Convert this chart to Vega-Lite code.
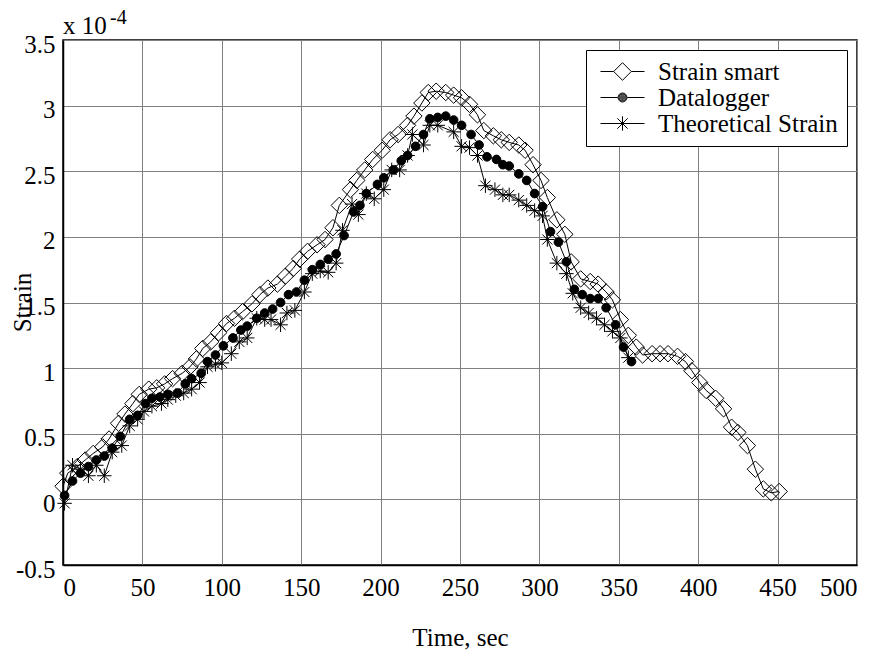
{
  "$schema": "https://vega.github.io/schema/vega-lite/v6.json",
  "width": 794,
  "height": 525,
  "autosize": {"type": "none"},
  "padding": {"left": 63, "top": 40, "right": 27, "bottom": 89},
  "background": "white",
  "config": {
    "font": "Liberation Serif",
    "view": {"stroke": "black", "strokeWidth": 1.5},
    "axis": {
      "labelFont": "Liberation Serif", "labelFontSize": 25, "labelColor": "black",
      "titleFont": "Liberation Serif", "titleFontSize": 25, "titleFontWeight": "normal", "titleColor": "black",
      "domainColor": "black", "domainWidth": 1.5,
      "gridColor": "#808080", "gridWidth": 1, "gridOpacity": 1,
      "ticks": false
    },
    "legend": {
      "labelFont": "Liberation Serif", "labelFontSize": 25, "labelColor": "black", "labelLimit": 0
    }
  },
  "datasets": {
    "strain": [
    {"series":"Strain smart","time":0,"strain":0.10},{"series":"Strain smart","time":3,"strain":0.20},{"series":"Strain smart","time":9,"strain":0.25},{"series":"Strain smart","time":14,"strain":0.30},{"series":"Strain smart","time":19,"strain":0.35},{"series":"Strain smart","time":25,"strain":0.40},{"series":"Strain smart","time":29,"strain":0.46},{"series":"Strain smart","time":35,"strain":0.58},{"series":"Strain smart","time":39,"strain":0.65},{"series":"Strain smart","time":44,"strain":0.73},{"series":"Strain smart","time":48,"strain":0.80},{"series":"Strain smart","time":54,"strain":0.84},{"series":"Strain smart","time":59,"strain":0.85},{"series":"Strain smart","time":64,"strain":0.88},{"series":"Strain smart","time":69,"strain":0.92},{"series":"Strain smart","time":75,"strain":0.96},{"series":"Strain smart","time":80,"strain":1.01},{"series":"Strain smart","time":84,"strain":1.07},{"series":"Strain smart","time":88,"strain":1.15},{"series":"Strain smart","time":93,"strain":1.20},{"series":"Strain smart","time":98,"strain":1.27},{"series":"Strain smart","time":103,"strain":1.34},{"series":"Strain smart","time":108,"strain":1.38},{"series":"Strain smart","time":113,"strain":1.43},{"series":"Strain smart","time":119,"strain":1.49},{"series":"Strain smart","time":124,"strain":1.56},{"series":"Strain smart","time":129,"strain":1.61},{"series":"Strain smart","time":135,"strain":1.64},{"series":"Strain smart","time":140,"strain":1.70},{"series":"Strain smart","time":145,"strain":1.76},{"series":"Strain smart","time":149,"strain":1.83},{"series":"Strain smart","time":154,"strain":1.89},{"series":"Strain smart","time":160,"strain":1.94},{"series":"Strain smart","time":165,"strain":1.98},{"series":"Strain smart","time":170,"strain":2.07},{"series":"Strain smart","time":174,"strain":2.24},{"series":"Strain smart","time":181,"strain":2.36},{"series":"Strain smart","time":185,"strain":2.43},{"series":"Strain smart","time":190,"strain":2.51},{"series":"Strain smart","time":195,"strain":2.59},{"series":"Strain smart","time":201,"strain":2.66},{"series":"Strain smart","time":206,"strain":2.74},{"series":"Strain smart","time":211,"strain":2.78},{"series":"Strain smart","time":217,"strain":2.85},{"series":"Strain smart","time":221,"strain":2.92},{"series":"Strain smart","time":226,"strain":3.02},{"series":"Strain smart","time":230,"strain":3.10},{"series":"Strain smart","time":235,"strain":3.11},{"series":"Strain smart","time":241,"strain":3.10},{"series":"Strain smart","time":246,"strain":3.08},{"series":"Strain smart","time":251,"strain":3.06},{"series":"Strain smart","time":256,"strain":3.01},{"series":"Strain smart","time":261,"strain":2.93},{"series":"Strain smart","time":265,"strain":2.81},{"series":"Strain smart","time":271,"strain":2.77},{"series":"Strain smart","time":276,"strain":2.74},{"series":"Strain smart","time":281,"strain":2.72},{"series":"Strain smart","time":287,"strain":2.70},{"series":"Strain smart","time":291,"strain":2.66},{"series":"Strain smart","time":296,"strain":2.55},{"series":"Strain smart","time":301,"strain":2.43},{"series":"Strain smart","time":305,"strain":2.30},{"series":"Strain smart","time":311,"strain":2.13},{"series":"Strain smart","time":316,"strain":2.02},{"series":"Strain smart","time":320,"strain":1.81},{"series":"Strain smart","time":326,"strain":1.68},{"series":"Strain smart","time":332,"strain":1.66},{"series":"Strain smart","time":337,"strain":1.64},{"series":"Strain smart","time":342,"strain":1.58},{"series":"Strain smart","time":346,"strain":1.52},{"series":"Strain smart","time":351,"strain":1.37},{"series":"Strain smart","time":356,"strain":1.25},{"series":"Strain smart","time":361,"strain":1.16},{"series":"Strain smart","time":365,"strain":1.10},{"series":"Strain smart","time":371,"strain":1.11},{"series":"Strain smart","time":376,"strain":1.11},{"series":"Strain smart","time":381,"strain":1.11},{"series":"Strain smart","time":387,"strain":1.09},{"series":"Strain smart","time":392,"strain":1.05},{"series":"Strain smart","time":396,"strain":0.98},{"series":"Strain smart","time":401,"strain":0.89},{"series":"Strain smart","time":405,"strain":0.83},{"series":"Strain smart","time":411,"strain":0.77},{"series":"Strain smart","time":416,"strain":0.69},{"series":"Strain smart","time":421,"strain":0.55},{"series":"Strain smart","time":425,"strain":0.51},{"series":"Strain smart","time":431,"strain":0.41},{"series":"Strain smart","time":436,"strain":0.23},{"series":"Strain smart","time":441,"strain":0.08},{"series":"Strain smart","time":446,"strain":0.05},{"series":"Strain smart","time":451,"strain":0.06},
    {"series":"Datalogger","time":1,"strain":0.03},{"series":"Datalogger","time":6,"strain":0.14},{"series":"Datalogger","time":11,"strain":0.20},{"series":"Datalogger","time":16,"strain":0.25},{"series":"Datalogger","time":21,"strain":0.30},{"series":"Datalogger","time":26,"strain":0.33},{"series":"Datalogger","time":31,"strain":0.39},{"series":"Datalogger","time":36,"strain":0.48},{"series":"Datalogger","time":42,"strain":0.61},{"series":"Datalogger","time":47,"strain":0.64},{"series":"Datalogger","time":52,"strain":0.73},{"series":"Datalogger","time":56,"strain":0.77},{"series":"Datalogger","time":61,"strain":0.78},{"series":"Datalogger","time":66,"strain":0.80},{"series":"Datalogger","time":72,"strain":0.81},{"series":"Datalogger","time":77,"strain":0.88},{"series":"Datalogger","time":81,"strain":0.92},{"series":"Datalogger","time":87,"strain":0.96},{"series":"Datalogger","time":91,"strain":1.05},{"series":"Datalogger","time":96,"strain":1.10},{"series":"Datalogger","time":101,"strain":1.17},{"series":"Datalogger","time":107,"strain":1.23},{"series":"Datalogger","time":112,"strain":1.29},{"series":"Datalogger","time":116,"strain":1.32},{"series":"Datalogger","time":122,"strain":1.38},{"series":"Datalogger","time":127,"strain":1.42},{"series":"Datalogger","time":132,"strain":1.45},{"series":"Datalogger","time":137,"strain":1.50},{"series":"Datalogger","time":142,"strain":1.56},{"series":"Datalogger","time":147,"strain":1.58},{"series":"Datalogger","time":152,"strain":1.67},{"series":"Datalogger","time":157,"strain":1.75},{"series":"Datalogger","time":162,"strain":1.79},{"series":"Datalogger","time":167,"strain":1.83},{"series":"Datalogger","time":172,"strain":1.87},{"series":"Datalogger","time":177,"strain":2.01},{"series":"Datalogger","time":183,"strain":2.19},{"series":"Datalogger","time":187,"strain":2.24},{"series":"Datalogger","time":191,"strain":2.33},{"series":"Datalogger","time":198,"strain":2.40},{"series":"Datalogger","time":202,"strain":2.45},{"series":"Datalogger","time":208,"strain":2.51},{"series":"Datalogger","time":213,"strain":2.58},{"series":"Datalogger","time":217,"strain":2.62},{"series":"Datalogger","time":222,"strain":2.69},{"series":"Datalogger","time":227,"strain":2.78},{"series":"Datalogger","time":231,"strain":2.90},{"series":"Datalogger","time":236,"strain":2.91},{"series":"Datalogger","time":241,"strain":2.92},{"series":"Datalogger","time":246,"strain":2.89},{"series":"Datalogger","time":251,"strain":2.85},{"series":"Datalogger","time":257,"strain":2.78},{"series":"Datalogger","time":262,"strain":2.70},{"series":"Datalogger","time":267,"strain":2.61},{"series":"Datalogger","time":273,"strain":2.59},{"series":"Datalogger","time":277,"strain":2.55},{"series":"Datalogger","time":281,"strain":2.54},{"series":"Datalogger","time":287,"strain":2.48},{"series":"Datalogger","time":292,"strain":2.43},{"series":"Datalogger","time":297,"strain":2.33},{"series":"Datalogger","time":302,"strain":2.23},{"series":"Datalogger","time":307,"strain":2.04},{"series":"Datalogger","time":312,"strain":1.96},{"series":"Datalogger","time":317,"strain":1.81},{"series":"Datalogger","time":322,"strain":1.60},{"series":"Datalogger","time":327,"strain":1.56},{"series":"Datalogger","time":332,"strain":1.53},{"series":"Datalogger","time":337,"strain":1.53},{"series":"Datalogger","time":342,"strain":1.46},{"series":"Datalogger","time":348,"strain":1.33},{"series":"Datalogger","time":353,"strain":1.16},{"series":"Datalogger","time":358,"strain":1.05},
    {"series":"Theoretical Strain","time":1,"strain":-0.03},{"series":"Theoretical Strain","time":6,"strain":0.26},{"series":"Theoretical Strain","time":11,"strain":0.23},{"series":"Theoretical Strain","time":16,"strain":0.18},{"series":"Theoretical Strain","time":21,"strain":0.26},{"series":"Theoretical Strain","time":26,"strain":0.18},{"series":"Theoretical Strain","time":31,"strain":0.36},{"series":"Theoretical Strain","time":37,"strain":0.41},{"series":"Theoretical Strain","time":42,"strain":0.56},{"series":"Theoretical Strain","time":47,"strain":0.61},{"series":"Theoretical Strain","time":51,"strain":0.67},{"series":"Theoretical Strain","time":56,"strain":0.71},{"series":"Theoretical Strain","time":62,"strain":0.73},{"series":"Theoretical Strain","time":66,"strain":0.76},{"series":"Theoretical Strain","time":71,"strain":0.79},{"series":"Theoretical Strain","time":76,"strain":0.81},{"series":"Theoretical Strain","time":81,"strain":0.84},{"series":"Theoretical Strain","time":86,"strain":0.89},{"series":"Theoretical Strain","time":91,"strain":1.01},{"series":"Theoretical Strain","time":96,"strain":1.03},{"series":"Theoretical Strain","time":100,"strain":1.04},{"series":"Theoretical Strain","time":106,"strain":1.11},{"series":"Theoretical Strain","time":111,"strain":1.20},{"series":"Theoretical Strain","time":116,"strain":1.23},{"series":"Theoretical Strain","time":122,"strain":1.38},{"series":"Theoretical Strain","time":127,"strain":1.37},{"series":"Theoretical Strain","time":131,"strain":1.37},{"series":"Theoretical Strain","time":137,"strain":1.33},{"series":"Theoretical Strain","time":141,"strain":1.42},{"series":"Theoretical Strain","time":146,"strain":1.44},{"series":"Theoretical Strain","time":152,"strain":1.58},{"series":"Theoretical Strain","time":157,"strain":1.72},{"series":"Theoretical Strain","time":162,"strain":1.74},{"series":"Theoretical Strain","time":167,"strain":1.73},{"series":"Theoretical Strain","time":172,"strain":1.80},{"series":"Theoretical Strain","time":176,"strain":2.05},{"series":"Theoretical Strain","time":182,"strain":2.25},{"series":"Theoretical Strain","time":186,"strain":2.17},{"series":"Theoretical Strain","time":191,"strain":2.33},{"series":"Theoretical Strain","time":196,"strain":2.29},{"series":"Theoretical Strain","time":202,"strain":2.36},{"series":"Theoretical Strain","time":207,"strain":2.51},{"series":"Theoretical Strain","time":212,"strain":2.51},{"series":"Theoretical Strain","time":217,"strain":2.62},{"series":"Theoretical Strain","time":220,"strain":2.78},{"series":"Theoretical Strain","time":227,"strain":2.70},{"series":"Theoretical Strain","time":231,"strain":2.85},{"series":"Theoretical Strain","time":236,"strain":2.85},{"series":"Theoretical Strain","time":246,"strain":2.80},{"series":"Theoretical Strain","time":251,"strain":2.69},{"series":"Theoretical Strain","time":256,"strain":2.68},{"series":"Theoretical Strain","time":261,"strain":2.62},{"series":"Theoretical Strain","time":266,"strain":2.39},{"series":"Theoretical Strain","time":272,"strain":2.36},{"series":"Theoretical Strain","time":277,"strain":2.32},{"series":"Theoretical Strain","time":281,"strain":2.32},{"series":"Theoretical Strain","time":287,"strain":2.28},{"series":"Theoretical Strain","time":292,"strain":2.24},{"series":"Theoretical Strain","time":297,"strain":2.20},{"series":"Theoretical Strain","time":302,"strain":2.16},{"series":"Theoretical Strain","time":305,"strain":1.98},{"series":"Theoretical Strain","time":311,"strain":1.80},{"series":"Theoretical Strain","time":317,"strain":1.72},{"series":"Theoretical Strain","time":321,"strain":1.57},{"series":"Theoretical Strain","time":326,"strain":1.46},{"series":"Theoretical Strain","time":331,"strain":1.42},{"series":"Theoretical Strain","time":336,"strain":1.38},{"series":"Theoretical Strain","time":341,"strain":1.33},{"series":"Theoretical Strain","time":346,"strain":1.28},{"series":"Theoretical Strain","time":351,"strain":1.23},{"series":"Theoretical Strain","time":356,"strain":1.08}
    ],
    "note": [{"label": "x 10", "exponent": "-4"}]
  },
  "layer": [
    {
      "data": {"name": "strain"},
      "mark": {"type": "line", "stroke": "black", "strokeWidth": 1},
      "encoding": {
        "x": {"field": "time", "type": "quantitative",
              "scale": {"domain": [0, 500], "nice": false},
              "axis": {"values": [0,50,100,150,200,250,300,350,400,450,500], "labelExpr": "datum.value + ''", "labelPadding": 10, "title": "Time, sec", "titleY": 72, "titleBaseline": "middle", "grid": true}},
        "y": {"field": "strain", "type": "quantitative",
              "scale": {"domain": [-0.5, 3.5], "nice": false, "zero": false},
              "axis": {"values": [-0.5,0,0.5,1,1.5,2,2.5,3,3.5], "labelExpr": "datum.value + ''", "labelPadding": 8, "labelOffset": 4, "title": "Strain", "titleX": -41, "titleY": 262, "titleAngle": 270, "titleAlign": "center", "titleBaseline": "middle", "grid": true}},
        "detail": {"field": "series"},
        "order": {"field": "time", "type": "quantitative"}
      }
    },
    {
      "data": {"name": "strain"},
      "mark": {"type": "point", "strokeWidth": 1, "opacity": 1, "stroke": "black"},
      "encoding": {
        "x": {"field": "time", "type": "quantitative"},
        "y": {"field": "strain", "type": "quantitative"},
        "shape": {"condition": [
                    {"test": "datum.series === 'Datalogger'", "value": "circle"},
                    {"test": "datum.series === 'Theoretical Strain'", "value": "M-1,0H1M0,-1V1M-0.7,-0.7L0.7,0.7M-0.7,0.7L0.7,-0.7"}
                  ], "value": "diamond"},
        "size": {"condition": [
                    {"test": "datum.series === 'Datalogger'", "value": 75},
                    {"test": "datum.series === 'Theoretical Strain'", "value": 210}
                  ], "value": 270},
        "fill": {"condition": {"test": "datum.series === 'Datalogger'", "value": "black"}, "value": "transparent"}
      }
    },
    {
      "data": {"name": "strain"},
      "transform": [{"filter": "false"}],
      "mark": {"type": "point", "filled": false, "color": "black", "strokeWidth": 1, "opacity": 1},
      "encoding": {
        "x": {"field": "time", "type": "quantitative"},
        "y": {"field": "strain", "type": "quantitative"},
        "shape": {"field": "series", "type": "nominal",
                  "scale": {"domain": ["Strain smart", "Datalogger", "Theoretical Strain"],
                            "range": [
                              "M-2.75,0H-1.1M1.1,0H2.75M0,-1.1L1.1,0L0,1.1L-1.1,0Z",
                              "M-2.75,0H-0.6M0.6,0H2.75M-0.56,0A0.56,0.56,0,1,0,0.56,0A0.56,0.56,0,1,0,-0.56,0M-0.44,0A0.44,0.44,0,1,0,0.44,0A0.44,0.44,0,1,0,-0.44,0M-0.32,0A0.32,0.32,0,1,0,0.32,0A0.32,0.32,0,1,0,-0.32,0M-0.2,0A0.2,0.2,0,1,0,0.2,0A0.2,0.2,0,1,0,-0.2,0M-0.08,0A0.08,0.08,0,1,0,0.08,0A0.08,0.08,0,1,0,-0.08,0",
                              "M-2.75,0H2.75M0,-0.9V0.9M-0.65,-0.65L0.65,0.65M-0.65,0.65L0.65,-0.65"
                            ]},
                  "legend": {
                    "title": null, "orient": "top-right", "offset": 10,
                    "padding": 9, "fillColor": "white", "strokeColor": "black",
                    "symbolSize": 256, "symbolOffset": 15, "labelOffset": 23, "rowPadding": -2,
                    "symbolStrokeColor": "black", "symbolStrokeWidth": 1, "symbolOpacity": 1
                  }}
      }
    },
    {
      "data": {"name": "note"},
      "mark": {"type": "text", "align": "left", "baseline": "alphabetic", "dy": -6, "fontSize": 25, "font": "Liberation Serif", "fill": "black"},
      "encoding": {"x": {"datum": 0}, "y": {"datum": 3.5}, "text": {"field": "label"}}
    },
    {
      "data": {"name": "note"},
      "mark": {"type": "text", "align": "left", "baseline": "alphabetic", "dx": 47, "dy": -16, "fontSize": 20, "font": "Liberation Serif", "fill": "black"},
      "encoding": {"x": {"datum": 0}, "y": {"datum": 3.5}, "text": {"field": "exponent"}}
    }
  ]
}
